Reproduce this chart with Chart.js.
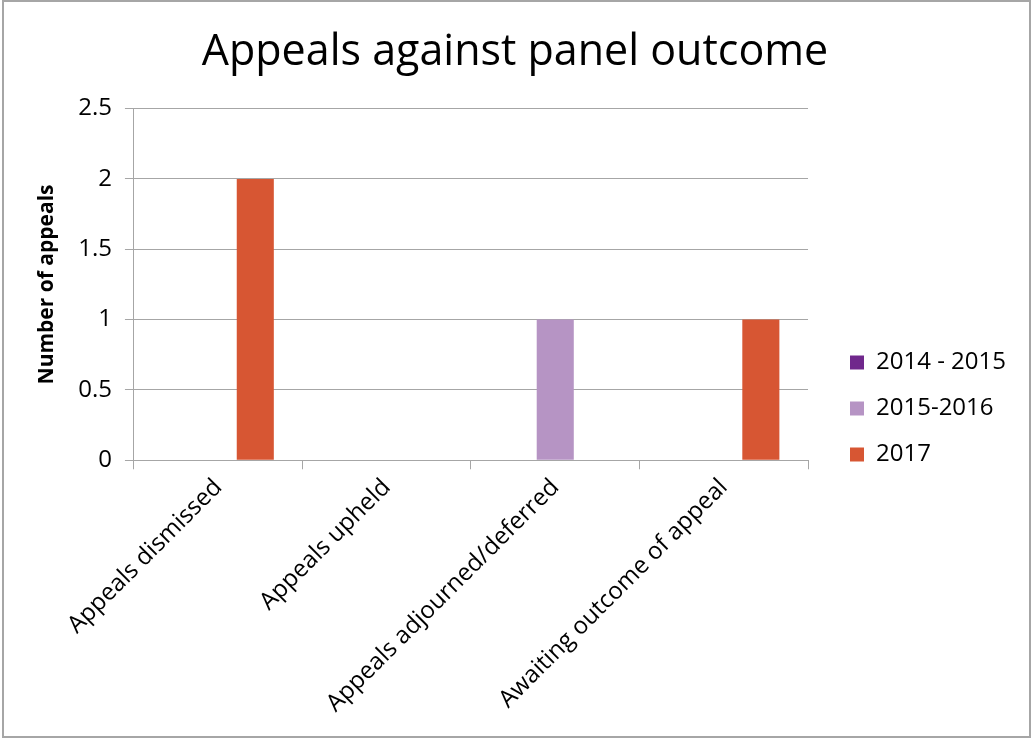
<!DOCTYPE html>
<html>
<head>
<meta charset="utf-8">
<script src="https://cdn.jsdelivr.net/npm/chart.js@4"></script>
<style>
    html, body { margin: 0; padding: 0; background: #fff; }
    #frame {
        position: absolute; left: 2px; top: 0; width: 1029px; height: 738px;
        box-sizing: border-box; border: 2px solid #a6a6a6; background: #fff;
    }
    #wrap { position: absolute; left: 0; top: 0; width: 1033px; height: 740px; }
</style>
</head>
<body>
<div id="frame"></div>
<div id="wrap"><canvas id="appealsChart" width="1033" height="740"></canvas></div>
<script>
// Categories and series
const categorias = ['Appeals dismissed', 'Appeals upheld', 'Appeals adjourned/deferred', 'Awaiting outcome of appeal'];
const serie2014_2015 = [0, 0, 0, 0];
const serie2015_2016 = [0, 0, 1, 0];
const serie2017 = [2, 0, 0, 1];
const yTicks = [0, 0.5, 1, 1.5, 2, 2.5];

const fonte = '"Open Sans", "Noto Sans", sans-serif';
const cinza = '#a6a6a6';

// Move the legend a bit away from the plot area
const legendOffset = {
    id: 'legendOffset',
    afterLayout(chart) {
        const lg = chart.legend;
        lg.left += 20; lg.right += 20;
        lg.top += 34; lg.bottom += 34;
    }
};

const ctx = document.getElementById('appealsChart').getContext('2d');

const appealsChart = new Chart(ctx, {
    type: 'bar',
    data: {
        labels: categorias,
        datasets: [
            { label: '2014 - 2015', data: serie2014_2015, backgroundColor: '#70288c' },
            { label: '2015-2016', data: serie2015_2016, backgroundColor: '#b694c4' },
            { label: '2017', data: serie2017, backgroundColor: '#d75633' }
        ]
    },
    plugins: [legendOffset],
    options: {
        responsive: false,
        animation: false,
        categoryPercentage: 0.66,
        barPercentage: 1,
        layout: { padding: { left: 34, right: 37, top: 27, bottom: 18 } },
        plugins: {
            title: {
                display: true,
                text: 'Appeals against panel outcome',
                color: '#000',
                font: { family: fonte, size: 43, weight: 'normal' },
                padding: { top: 0, bottom: 30 }
            },
            legend: {
                display: true,
                position: 'right',
                labels: {
                    color: '#000',
                    font: { family: fonte, size: 24 },
                    boxWidth: 14,
                    boxHeight: 14,
                    padding: 22
                }
            },
            tooltip: { enabled: false }
        },
        scales: {
            x: {
                grid: {
                    display: true,
                    drawOnChartArea: false,
                    drawTicks: true,
                    tickLength: 9,
                    color: cinza
                },
                border: { display: true, color: cinza },
                ticks: {
                    color: '#000',
                    font: { family: fonte, size: 24 },
                    minRotation: 45,
                    maxRotation: 45,
                    padding: 4
                }
            },
            y: {
                min: 0,
                max: 2.5,
                afterBuildTicks: function(axis) {
                    axis.ticks = yTicks.map(v => ({ value: v }));
                },
                grid: { color: cinza, tickLength: 9 },
                border: { display: true, color: cinza },
                ticks: {
                    color: '#000',
                    font: { family: fonte, size: 24 },
                    padding: 13,
                    callback: function(value) {
                        return String(value);
                    }
                },
                title: {
                    display: true,
                    text: 'Number of appeals',
                    color: '#000',
                    font: { family: fonte, size: 21, weight: 'bold' },
                    padding: { top: 0, bottom: 6 }
                }
            }
        }
    }
});
</script>
</body>
</html>
